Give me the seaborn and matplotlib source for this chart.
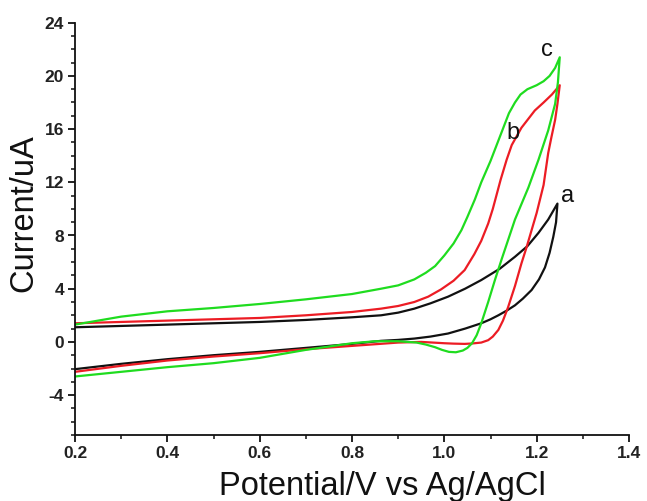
import numpy as np
import pandas as pd
import matplotlib
matplotlib.use("Agg")
import matplotlib.pyplot as plt
from matplotlib.ticker import MultipleLocator
import seaborn as sns

# Cyclic voltammograms: forward scan 0.2 -> 1.25 V, then reverse back to 0.2 V
a_potential = [0.2, 0.3, 0.4, 0.5, 0.6, 0.7, 0.8, 0.863, 0.9, 0.935, 0.97, 1.008,
               1.045, 1.08, 1.12, 1.153, 1.18, 1.204, 1.225, 1.245,
               1.242, 1.236, 1.228, 1.218, 1.205, 1.189, 1.17, 1.153, 1.135, 1.117,
               1.1, 1.08, 1.045, 1.008, 0.97, 0.935, 0.9, 0.863, 0.8,
               0.7, 0.6, 0.5, 0.4, 0.3, 0.2]
a_current = [1.1, 1.2, 1.3, 1.4, 1.5, 1.65, 1.85, 2.0, 2.2, 2.5, 2.9, 3.4,
             4.0, 4.65, 5.5, 6.4, 7.2, 8.2, 9.2, 10.4,
             9.0, 7.9, 6.7, 5.6, 4.7, 3.9, 3.25, 2.75, 2.35, 2.0,
             1.7, 1.4, 1.0, 0.63, 0.4, 0.25, 0.15, 0.08, -0.15,
             -0.45, -0.75, -1.0, -1.3, -1.65, -2.05]

b_potential = [0.2, 0.3, 0.4, 0.5, 0.6, 0.7, 0.8, 0.863, 0.9, 0.935, 0.965, 0.993,
               1.02, 1.044, 1.065, 1.08, 1.095, 1.105, 1.122, 1.135, 1.146, 1.167,
               1.196, 1.215, 1.233, 1.25,
               1.245, 1.24, 1.232, 1.225, 1.215, 1.2, 1.189, 1.178, 1.167, 1.153,
               1.138, 1.127, 1.117, 1.105, 1.095, 1.08, 1.06, 1.044, 1.02, 1.0,
               0.95, 0.9, 0.8, 0.7, 0.6, 0.5, 0.4, 0.3, 0.2]
b_current = [1.4, 1.5, 1.6, 1.7, 1.8, 2.0, 2.25, 2.5, 2.7, 3.0, 3.4, 3.95,
             4.6, 5.4, 6.6, 7.6, 8.9, 10.0, 12.2, 13.7, 14.8, 16.1,
             17.4, 18.0, 18.6, 19.3,
             17.9, 16.7, 15.4, 14.2, 11.8, 9.7, 8.4, 7.1, 5.9, 4.2,
             2.6, 1.6, 0.9, 0.4, 0.13, -0.05, -0.12, -0.15, -0.13, -0.1,
             0.0, -0.05, -0.3, -0.55, -0.85, -1.1, -1.4, -1.8, -2.25]

c_potential = [0.2, 0.3, 0.4, 0.5, 0.6, 0.7, 0.8, 0.863, 0.9, 0.935, 0.96, 0.98,
               1.0, 1.02, 1.037, 1.05, 1.066, 1.08, 1.1, 1.12, 1.14, 1.153, 1.165,
               1.18, 1.2, 1.215, 1.228, 1.24, 1.25,
               1.246, 1.24, 1.225, 1.204, 1.182, 1.153, 1.124, 1.11, 1.095, 1.08,
               1.07, 1.06, 1.05, 1.04, 1.025, 1.01, 0.995, 0.98, 0.96, 0.94,
               0.9, 0.85, 0.8, 0.7, 0.6, 0.5, 0.4, 0.3, 0.2]
c_current = [1.3, 1.9, 2.3, 2.55, 2.85, 3.2, 3.6, 4.0, 4.25, 4.7, 5.2, 5.7,
             6.5, 7.4, 8.4, 9.4, 10.7, 12.0, 13.6, 15.4, 17.2, 18.0, 18.6,
             19.0, 19.3, 19.6, 20.0, 20.6, 21.4,
             19.5, 17.9, 15.9, 13.7, 11.6, 9.2, 6.2, 4.7, 3.0, 1.4,
             0.5, -0.1, -0.45, -0.65, -0.78, -0.75, -0.6, -0.4, -0.2, -0.05,
             0.05, 0.05, -0.1, -0.6, -1.2, -1.6, -1.9, -2.25, -2.6]

curve_names = ["a", "b", "c"]
curve_colors = ["#111111", "#ec1c24", "#1fdc1f"]
# label anchor for each curve (potential, current)
label_x = [1.267, 1.149, 1.222]
label_y = [10.95, 15.7, 21.95]

x_ticks = [0.2, 0.4, 0.6, 0.8, 1.0, 1.2, 1.4]
y_ticks = [-4, 0, 4, 8, 12, 16, 20, 24]

frames = []
for name, xs, ys in zip(curve_names,
                        [a_potential, b_potential, c_potential],
                        [a_current, b_current, c_current]):
    frames.append(pd.DataFrame({"potential": xs, "current": ys,
                                "curve": name, "order": np.arange(len(xs))}))
df = pd.concat(frames, ignore_index=True)

sns.set_style("ticks")
plt.rcParams["font.family"] = ["Liberation Sans", "DejaVu Sans"]

fig = plt.figure(figsize=(6.47, 5.01), dpi=100)
ax = fig.add_axes([75 / 647, 1 - 435 / 501, (629 - 75) / 647, (435 - 22.7) / 501])

sns.lineplot(data=df, x="potential", y="current", hue="curve", units="curve",
             estimator=None, sort=False, palette=dict(zip(curve_names, curve_colors)),
             linewidth=1.6, legend=False, ax=ax)

for name, lx, ly in zip(curve_names, label_x, label_y):
    ax.text(lx, ly, name, fontsize=17, ha="center", va="center", color="#111111")

ax.set_xlim(0.2, 1.4)
ax.set_ylim(-7, 24)
ax.set_xticks(x_ticks)
ax.set_xticklabels([f"{t:.1f}" for t in x_ticks])
ax.set_yticks(y_ticks)
ax.set_yticklabels([str(t) for t in y_ticks])
ax.xaxis.set_minor_locator(MultipleLocator(0.1))
ax.yaxis.set_minor_locator(MultipleLocator(1))

for side in ["top", "right"]:
    ax.spines[side].set_visible(False)
for side in ["left", "bottom"]:
    ax.spines[side].set_linewidth(1.3)
    ax.spines[side].set_color("#111111")

ax.tick_params(which="major", length=5, width=1.3, color="#111111",
               labelsize=12.5, pad=3)
ax.tick_params(which="minor", length=3, width=1.1, color="#111111")
for lab in ax.get_xticklabels() + ax.get_yticklabels():
    lab.set_fontweight("bold")
    lab.set_color("#222222")

ax.set_xlabel("")
ax.set_ylabel("")
fig.text(382 / 647, 1 - 495 / 501, "Potential/V vs Ag/AgCl", fontsize=23.5,
         ha="center", va="baseline", color="#111111")
fig.text(24 / 647, 1 - 213 / 501, "Current/uA", fontsize=23.5, rotation=90,
         ha="center", va="center", color="#111111")

fig.savefig("out.png", dpi=100, facecolor="white")
